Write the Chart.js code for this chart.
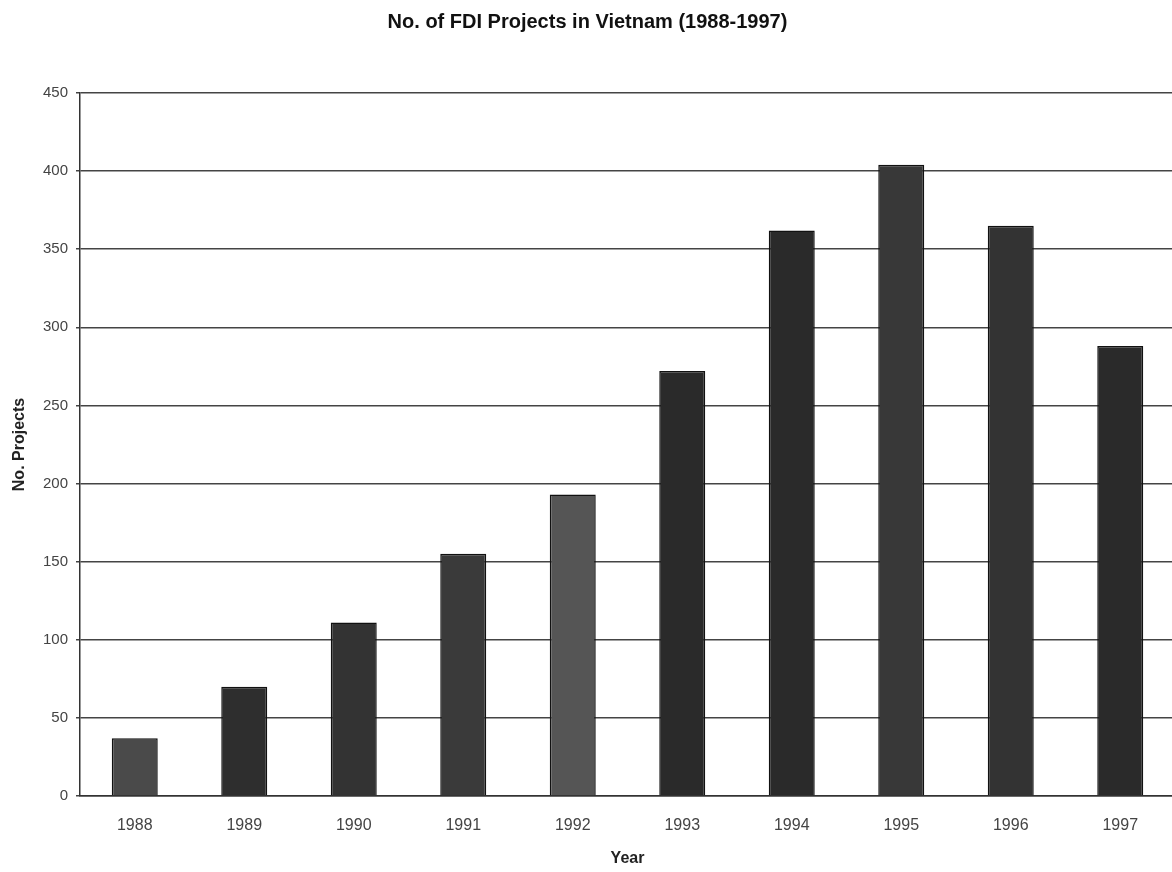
<!DOCTYPE html>
<html>
<head>
<meta charset="utf-8">
<script src="https://cdn.jsdelivr.net/npm/chart.js@4/dist/chart.umd.min.js"></script>
<style>
  html, body { margin: 0; padding: 0; background: #fff; overflow: hidden; }
  #wrap { position: absolute; left: 0; top: 0; width: 1175px; height: 872px; }
</style>
</head>
<body>
<div id="wrap"><canvas id="mycanvas"></canvas></div>
<script>
var years = ["1988", "1989", "1990", "1991", "1992", "1993", "1994", "1995", "1996", "1997"];
var projects = [37, 70, 111, 155, 193, 272, 362, 404, 365, 288];
var barColors = ["#4a4a4a", "#2e2e2e", "#333333", "#3a3a3a", "#555555",
                 "#2a2a2a", "#2a2a2a", "#383838", "#333333", "#2a2a2a"];

var fontFamily = "Liberation Sans, Arial, sans-serif";
var ctx = document.getElementById("mycanvas");

var chartdata = {
    labels: years,
    datasets: [
        {
            label: "No. Projects",
            data: projects,
            backgroundColor: barColors,
            borderColor: "#111111",
            borderWidth: 1.5,
            categoryPercentage: 1.0,
            barPercentage: 0.42
        }
    ]
};

var BarGraph = new Chart(ctx, {
    type: 'bar',
    data: chartdata,
    options: {
        responsive: true,
        maintainAspectRatio: false,
        animation: false,
        layout: { padding: 0 },
        plugins: {
            legend: { display: false },
            tooltip: { enabled: false },
            title: {
                display: true,
                text: "No. of FDI Projects in Vietnam (1988-1997)",
                color: "#111",
                font: { family: fontFamily, size: 20, weight: "bold" },
                padding: { top: 10, bottom: 59 }
            }
        },
        scales: {
            x: {
                grid: { display: false },
                border: { display: true, color: "#333", width: 1.5 },
                ticks: {
                    color: "#444",
                    padding: 12,
                    font: { family: fontFamily, size: 16 }
                },
                title: {
                    display: true,
                    text: "Year",
                    color: "#222",
                    font: { family: fontFamily, size: 16, weight: "bold" },
                    padding: { top: 4, bottom: 4 }
                },
                afterFit: function(scale) { scale.height = 76; }
            },
            y: {
                min: 0,
                max: 450,
                ticks: {
                    stepSize: 50,
                    color: "#444",
                    padding: 8,
                    font: { family: fontFamily, size: 15 }
                },
                grid: {
                    color: "#444",
                    lineWidth: 1.5,
                    drawTicks: true,
                    tickLength: 4
                },
                border: { display: true, color: "#333", width: 1.5 },
                title: {
                    display: true,
                    text: "No. Projects",
                    color: "#222",
                    font: { family: fontFamily, size: 16, weight: "bold" },
                    padding: { top: 10, bottom: 4 }
                },
                afterFit: function(scale) { scale.width = 80; }
            }
        }
    }
});
</script>
</body>
</html>
